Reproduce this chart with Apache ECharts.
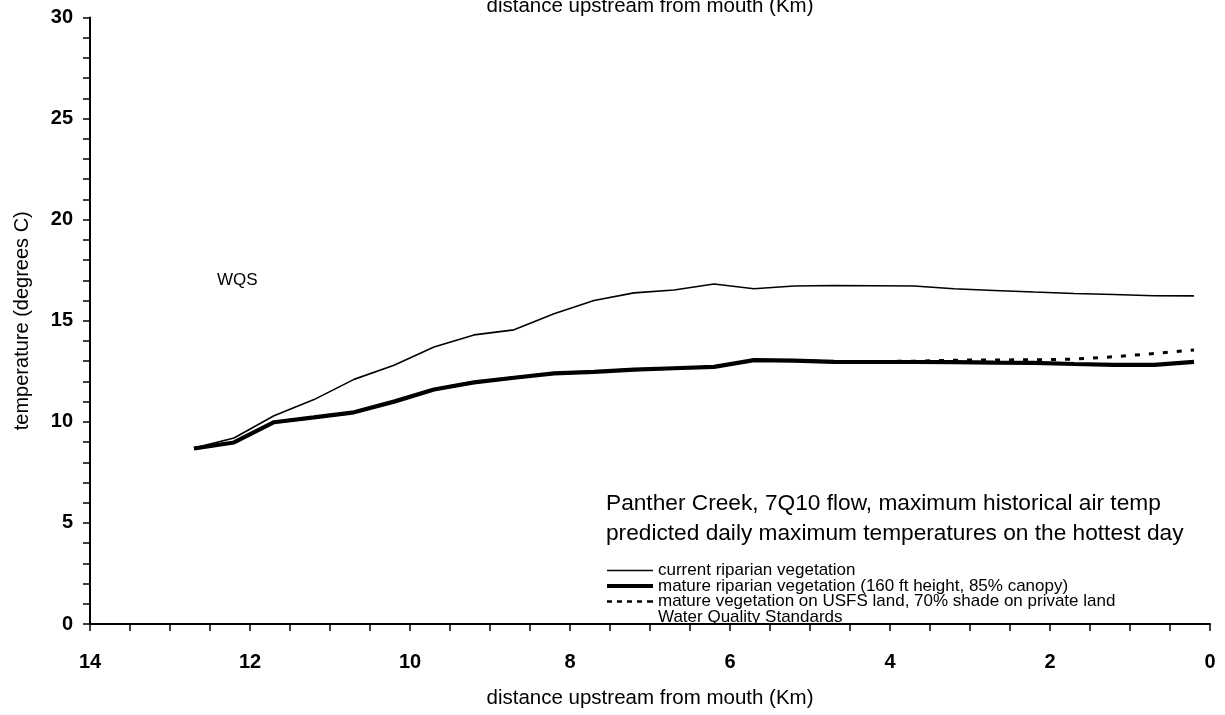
<!DOCTYPE html>
<html>
<head>
<meta charset="utf-8">
<script src="https://cdn.jsdelivr.net/npm/echarts@6/dist/echarts.min.js"></script>
<style>
html,body{margin:0;padding:0;background:#fff;}
#chart{width:1225px;height:715px;}
</style>
</head>
<body>
<div id="chart"></div>
<script>
// distance upstream from mouth (km)
var distances = [12.7, 12.2, 11.7, 11.2, 10.7, 10.2, 9.7, 9.2, 8.7, 8.2, 7.7, 7.2, 6.7, 6.2, 5.7, 5.2, 4.7, 4.2, 3.7, 3.2, 2.7, 2.2, 1.7, 1.2, 0.7, 0.2];
// current riparian vegetation
var currentVeg = [8.7, 9.2, 10.3, 11.1, 12.1, 12.8, 13.7, 14.3, 14.55, 15.35, 16.0, 16.38, 16.52, 16.82, 16.58, 16.72, 16.74, 16.73, 16.72, 16.58, 16.5, 16.42, 16.35, 16.3, 16.24, 16.23];
// mature riparian vegetation (160 ft height, 85% canopy)
var matureVeg = [8.68, 8.98, 9.98, 10.22, 10.47, 11.0, 11.6, 11.95, 12.18, 12.4, 12.47, 12.58, 12.65, 12.72, 13.05, 13.03, 12.97, 12.96, 12.96, 12.95, 12.93, 12.92, 12.86, 12.82, 12.82, 12.97];
// mature vegetation on USFS land, 70% shade on private land
var usfsVeg = [8.68, 8.98, 9.98, 10.22, 10.47, 11.0, 11.6, 11.95, 12.18, 12.4, 12.47, 12.58, 12.65, 12.72, 13.05, 13.03, 12.98, 12.98, 13.0, 13.05, 13.06, 13.07, 13.1, 13.22, 13.38, 13.55];
var seriesNames = ['current riparian vegetation', 'mature riparian vegetation (160 ft height, 85% canopy)', 'mature vegetation on USFS land, 70% shade on private land', 'Water Quality Standards'];
var yTicks = [0, 5, 10, 15, 20, 25, 30];
var xTicks = [0, 2, 4, 6, 8, 10, 12, 14];

function pairs(xs, ys) { return xs.map(function (x, i) { return [x, ys[i]]; }); }

var FONT = 'Arial, "Liberation Sans", Helvetica, sans-serif';
var chart = echarts.init(document.getElementById('chart'), null, {renderer: 'canvas'});
chart.setOption({
  animation: false,
  backgroundColor: '#fff',
  textStyle: {fontFamily: FONT, color: '#000'},
  grid: {left: 90, right: 15, top: 17.5, bottom: 91},
  xAxis: {
    type: 'value', inverse: true, min: xTicks[0], max: xTicks[xTicks.length - 1], interval: 2,
    name: 'distance upstream from mouth (Km)', nameLocation: 'middle', nameGap: 64,
    nameTextStyle: {fontSize: 20.5, fontFamily: FONT, color: '#000'},
    axisLine: {onZero: false, lineStyle: {color: '#000', width: 2}},
    axisTick: {inside: false, length: 7, lineStyle: {color: '#000', width: 1.5}},
    minorTick: {show: true, splitNumber: 4, length: 7, lineStyle: {color: '#000', width: 1.5}},
    axisLabel: {fontSize: 20, fontWeight: 'bold', fontFamily: FONT, color: '#000', margin: 28},
    splitLine: {show: false}
  },
  yAxis: {
    type: 'value', position: 'left', min: yTicks[0], max: yTicks[yTicks.length - 1], interval: 5,
    name: 'temperature (degrees C)', nameLocation: 'middle', nameGap: 58, nameRotate: 90,
    nameTextStyle: {fontSize: 20, fontFamily: FONT, color: '#000'},
    axisLine: {show: true, onZero: false, lineStyle: {color: '#000', width: 2}},
    axisTick: {show: true, inside: false, length: 7, lineStyle: {color: '#000', width: 1.5}},
    minorTick: {show: true, splitNumber: 5, length: 7, lineStyle: {color: '#000', width: 1.5}},
    axisLabel: {fontSize: 20, fontWeight: 'bold', fontFamily: FONT, color: '#000', margin: 17},
    splitLine: {show: false}
  },
  legend: {
    orient: 'vertical', left: 602, top: 557, itemWidth: 46, itemHeight: 14, itemGap: -1.5,
    symbolKeepAspect: true,
    textStyle: {fontSize: 17, fontFamily: FONT, color: '#000', lineHeight: 15.5},
    data: [
      {name: seriesNames[0], icon: 'path://M0,0H46V1.6H0Z'},
      {name: seriesNames[1], icon: 'path://M0,0H46V4.2H0Z'},
      {name: seriesNames[2], icon: 'path://M0,0H5V2.6H0ZM10,0H15V2.6H10ZM20,0H25V2.6H20ZM30,0H35V2.6H30ZM40,0H46V2.6H40Z'},
      {name: seriesNames[3], icon: 'rect', itemStyle: {opacity: 0}}
    ]
  },
  graphic: [
    {type: 'text', x: 650, top: -4, style: {text: 'distance upstream from mouth (Km)', font: '20.5px ' + FONT, fill: '#000', textAlign: 'center'}},
    {type: 'text', left: 217, top: 272, style: {text: 'WQS', font: '17px ' + FONT, fill: '#000'}},
    {type: 'text', left: 606, top: 492, style: {text: 'Panther Creek, 7Q10 flow, maximum historical air temp', font: '22.7px ' + FONT, fill: '#000'}},
    {type: 'text', left: 606, top: 522, style: {text: 'predicted daily maximum temperatures on the hottest day', font: '22.7px ' + FONT, fill: '#000'}}
  ],
  series: [
    {name: seriesNames[0], type: 'line', data: pairs(distances, currentVeg), symbol: 'none', z: 3,
     lineStyle: {color: '#000', width: 1.6}, itemStyle: {color: '#000'}},
    {name: seriesNames[1], type: 'line', data: pairs(distances, matureVeg), symbol: 'none', z: 4,
     lineStyle: {color: '#000', width: 4.2}, itemStyle: {color: '#000'}},
    {name: seriesNames[2], type: 'line', data: pairs(distances, usfsVeg), symbol: 'none', z: 2,
     lineStyle: {color: '#000', width: 3, type: [5, 9]}, itemStyle: {color: '#000'}},
    {name: seriesNames[3], type: 'line', data: [], symbol: 'none',
     lineStyle: {color: '#000', width: 0, opacity: 0}, itemStyle: {color: '#000', opacity: 0}}
  ]
});
</script>
</body>
</html>
